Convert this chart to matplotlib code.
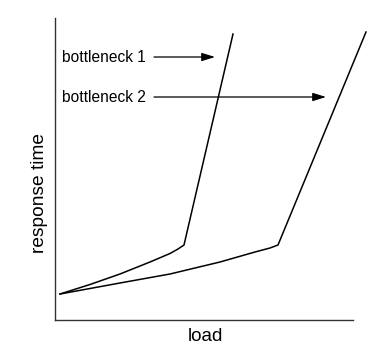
import matplotlib
matplotlib.use("Agg")
import matplotlib.pyplot as plt

plt.rcParams['font.family'] = ['Liberation Sans', 'DejaVu Sans']

# data (load, response time) in arbitrary units
load1 = [5, 35, 65, 95, 115, 123, 129, 178]
resp1 = [26, 35.5, 46, 58, 66.5, 71, 75, 286]
load2 = [5, 65, 115, 165, 200, 215, 223, 311]
resp2 = [26, 37, 46, 58, 68, 72, 75, 288]
labels = ["bottleneck 1", "bottleneck 2"]
arrow_y = [263, 223]
arrow_start = 99
arrow_end = [160, 271]

W, H = 379, 355
fig = plt.figure(figsize=(W / 100, H / 100), dpi=100)
ax = fig.add_axes([55 / W, 35 / H, 298 / W, 302 / H])
ax.set_xlim(0, 298)
ax.set_ylim(0, 302)
for s in ['top', 'right']:
    ax.spines[s].set_visible(False)
for s in ['left', 'bottom']:
    ax.spines[s].set_color('#333333')
    ax.spines[s].set_linewidth(1.0)
ax.set_xticks([])
ax.set_yticks([])

ax.plot(load1, resp1, color='black', lw=1.1, clip_on=False, solid_joinstyle='round')
ax.plot(load2, resp2, color='black', lw=1.1, clip_on=False, solid_joinstyle='round')

for lab, y, xe in zip(labels, arrow_y, arrow_end):
    ax.text(7, y, lab, fontsize=11.2, va='center', ha='left')
    ax.annotate('', xy=(xe, y), xytext=(arrow_start, y),
                arrowprops=dict(arrowstyle='-|>,head_length=0.8,head_width=0.25',
                                lw=0.9, color='black', shrinkA=0, shrinkB=0,
                                mutation_scale=10))

fig.text(205 / W, 1 - 336.5 / H, "load", fontsize=13.5, ha='center', va='center')
fig.text(39 / W, 1 - 193 / H, "response time", fontsize=13.8, ha='center',
         va='center', rotation=90)

fig.savefig("out.png", dpi=100)
